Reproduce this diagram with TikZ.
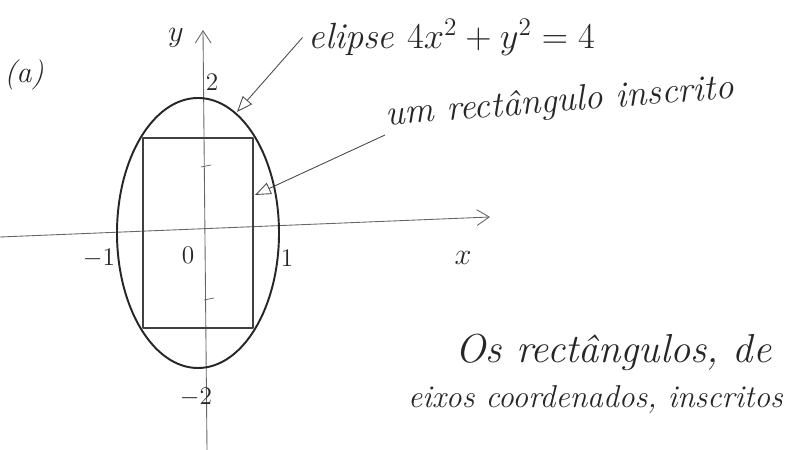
\documentclass[tikz,border=0pt]{standalone}
\usepackage{amsmath, amssymb}
\usepackage{tikz}
\usetikzlibrary{calc, arrows.meta}
\usepackage{tkz-euclide}

\begin{document}
\begin{tikzpicture}[font=\itshape, every node/.style={text=black!85},
                    pencil/.style={draw=black!75, line width=0.9pt},
                    axis/.style={draw=black!60, line width=0.5pt, -{Straight Barb[length=7pt, width=9pt]}},
                    pointer/.style={draw=black!70, line width=0.5pt, -{Triangle[open, length=9pt, width=7pt]}}]
                \useasboundingbox (0,0) rectangle (15.72,9);
                \tkzDefPoints{3.96/4.34/O, 0/4.26/X_1, 9.8/4.66/X_2, 4.14/0/Y_1, 4.06/8.4/Y_2}
                \tkzDefPoints{2.86/6.24/R_1, 5.06/6.24/R_2, 5.06/2.44/R_3, 2.86/2.44/R_4}
                \tkzDefPoints{4.74/6.76/E, 5.1/5.1/S}
                \tkzDrawSegments[axis](X_1,X_2 Y_1,Y_2)
                \draw[pencil, draw=black!85, line width=1.1pt] (O) ellipse [x radius=1.62, y radius=2.7];
                \tkzDrawPolygon[pencil](R_1,R_2,R_3,R_4)
                \draw[black!60] (4.02,5.66) -- (4.22,5.7) (4.08,3.0) -- (4.28,3.04);
                \node (a) at (0.48,7.5) {\LARGE (a)};
                \node (ylab) at (3.52,8.24) {\LARGE $y$};
                \node (xlab) at (9.26,3.84) {\LARGE $x$};
                \node (two) at (4.24,7.36) {\Large $2$};
                \node (mtwo) at (3.92,1.06) {\Large $-2$};
                \node (mone) at (1.98,3.84) {\Large $-1$};
                \node (zero) at (3.76,3.9) {\Large $0$};
                \node (one) at (5.74,3.84) {\Large $1$};
                \node[anchor=west] (elab) at (6.05,8.25) {\huge elipse $4x^2+y^2=4$};
                \node[anchor=south west, rotate=4.5, inner sep=1pt] (rlab) at (7.7,6.3) {\huge um rectângulo inscrito};
                \node[anchor=east] (os) at (15.55,1.95) {\fontsize{23}{28}\selectfont Os rectângulos, de};
                \node[anchor=east, inner sep=1pt] (eixos) at (15.7,1.0) {\fontsize{18}{22}\selectfont eixos coordenados, inscritos};
                \draw[pointer] (elab.west) -- (E);
                \draw[pointer] (rlab.south west) -- (S);
            \end{tikzpicture}
\end{document}
